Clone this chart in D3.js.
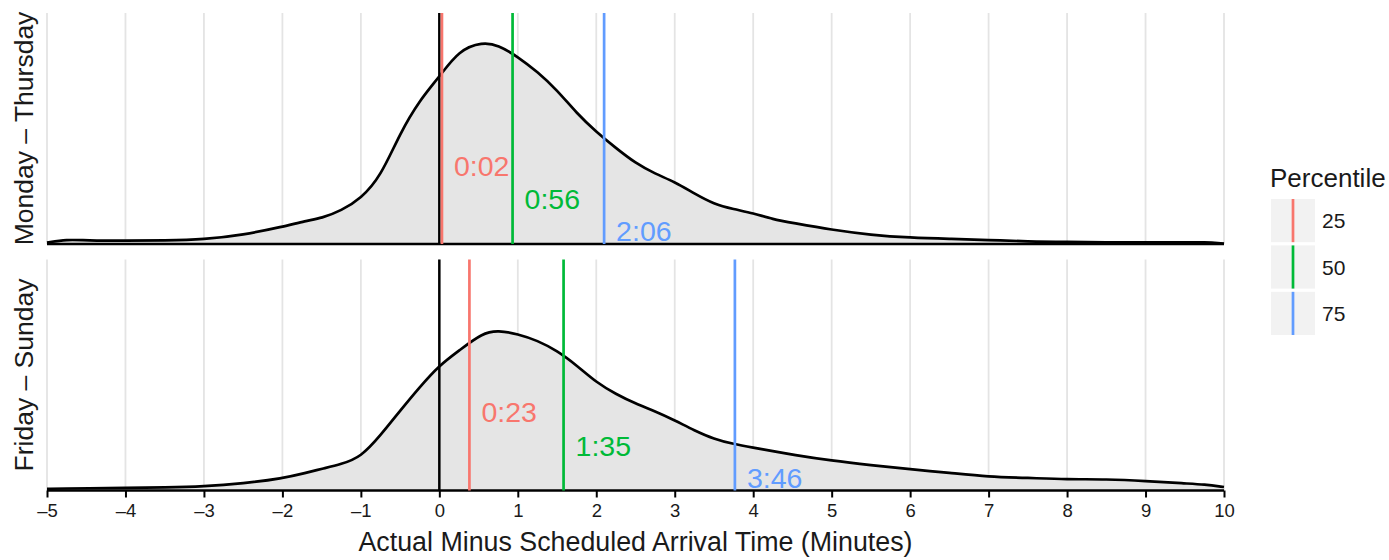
<!DOCTYPE html>
<html><head><meta charset="utf-8">
<script src="https://cdn.jsdelivr.net/npm/d3@7"></script>
<style>
body{margin:0;background:#fff;}
text{font-family:"Liberation Sans",Arial,Helvetica,sans-serif;}
</style></head>
<body><svg id="chart" width="1389" height="560"></svg>
<script>
// ---- data ----
const facets = ["Monday – Thursday", "Friday – Sunday"];
const densityX = [-5,-4.75,-4.5,-4,-3.5,-3,-2.5,-2,-1.7,-1.5,-1.25,-1,-0.75,-0.5,-0.25,0,0.25,0.55,0.75,1,1.25,1.5,1.75,2,2.25,2.5,2.75,3,3.25,3.5,3.75,4,4.25,4.5,5,5.5,6,6.5,7,7.5,8,8.5,9,9.5,9.75,10];
const densityMonThu = [0.003,0.009,0.007,0.0065,0.007,0.009,0.018,0.034,0.046,0.051,0.066,0.09,0.133,0.22,0.285,0.331,0.384,0.40,0.394,0.371,0.341,0.305,0.259,0.222,0.19,0.16,0.139,0.123,0.1,0.079,0.069,0.061,0.049,0.042,0.028,0.018,0.0125,0.01,0.008,0.005,0.004,0.0035,0.003,0.003,0.004,0.001];
const densityFriSun = [0.0034,0.004,0.0045,0.005,0.006,0.008,0.014,0.024,0.035,0.043,0.052,0.066,0.109,0.158,0.205,0.248,0.277,0.312,0.317,0.31,0.297,0.277,0.248,0.214,0.191,0.172,0.157,0.139,0.119,0.102,0.092,0.085,0.078,0.071,0.059,0.05,0.042,0.035,0.027,0.025,0.022,0.0225,0.019,0.014,0.012,0.007];
const percentiles = ["25","50","75"];
const percentileColors = ["#F8766D","#00BA38","#619CFF"];
const pctMonThu = [2/60, 56/60, 126/60];
const pctFriSun = [23/60, 95/60, 226/60];
const pctLabelsMonThu = ["0:02","0:56","2:06"];
const pctLabelsFriSun = ["0:23","1:35","3:46"];
const labelY = [0.135, 0.069, 0.005];
const xTicks = [-5,-4,-3,-2,-1,0,1,2,3,4,5,6,7,8,9,10];
const xTitle = "Actual Minus Scheduled Arrival Time (Minutes)";
const legendTitle = "Percentile";

const panels = [
  {label: facets[0], dens: densityMonThu, pct: pctMonThu, lab: pctLabelsMonThu},
  {label: facets[1], dens: densityFriSun, pct: pctFriSun, lab: pctLabelsFriSun}
];

// ---- layout ----
const svg = d3.select("#chart");
const left = 47, right = 1224;
const panelTops = [13, 259.5];
const panelH = 231;

const x = d3.scaleLinear().domain([-5, 10]).range([left, right]);

panels.forEach((p, i) => {
  const top = panelTops[i];
  const y = d3.scaleLinear().domain([0, 0.4575]).range([top + panelH, top]);
  const g = svg.append("g");

  // gridlines
  g.selectAll("line.grid").data(xTicks).enter().append("line")
    .attr("x1", d => x(d)).attr("x2", d => x(d))
    .attr("y1", top).attr("y2", top + panelH)
    .attr("stroke", "#e4e4e4").attr("stroke-width", 1.8);

  // density area
  const pts = densityX.map((d, k) => [d, p.dens[k]]);
  const area = d3.area().x(d => x(d[0])).y0(y(0)).y1(d => y(d[1])).curve(d3.curveBasis);
  g.append("path").datum(pts).attr("d", area)
    .attr("fill", "#e5e5e5").attr("stroke", "none");
  const line = d3.line().x(d => x(d[0])).y(d => y(d[1])).curve(d3.curveBasis);
  g.append("path").datum(pts).attr("d", line)
    .attr("fill", "none").attr("stroke", "#000").attr("stroke-width", 2.7);
  g.append("line").attr("x1", x(-5)).attr("x2", x(10)).attr("y1", y(0)).attr("y2", y(0))
    .attr("stroke", "#000").attr("stroke-width", 2.7);

  // zero line
  g.append("line").attr("x1", x(0)).attr("x2", x(0))
    .attr("y1", top).attr("y2", top + panelH)
    .attr("stroke", "#000").attr("stroke-width", 2.5);

  // percentile lines + labels
  p.pct.forEach((v, k) => {
    g.append("line").attr("x1", x(v)).attr("x2", x(v))
      .attr("y1", top).attr("y2", top + panelH)
      .attr("stroke", percentileColors[k]).attr("stroke-width", 2.7);
    g.append("text").attr("x", x(v) + 12).attr("y", y(labelY[k]))
      .attr("fill", percentileColors[k]).attr("font-size", 28.5)
      .text(p.lab[k]);
  });

  // strip label
  g.append("text")
    .attr("transform", `translate(33,${top + panelH / 2}) rotate(-90)`)
    .attr("text-anchor", "middle").attr("font-size", 26.5).attr("fill", "#1a1a1a")
    .text(p.label);

  if (i === 1) {
    const ax = d3.axisBottom(x).tickValues(xTicks).tickSize(7).tickPadding(6)
      .tickFormat(d => String(d).replace("-", "–"));
    const axg = g.append("g").attr("transform", `translate(0,${top + panelH})`).call(ax);
    axg.select(".domain").remove();
    axg.selectAll(".tick line").attr("stroke", "#000").attr("stroke-width", 2);
    axg.selectAll(".tick text").attr("font-size", 18.5).attr("fill", "#1a1a1a")
      .attr("font-family", "Liberation Sans, Arial, sans-serif");
  }
});

// x axis title
svg.append("text").attr("x", (left + right) / 2).attr("y", 551)
  .attr("text-anchor", "middle").attr("font-size", 26.8).attr("fill", "#1a1a1a")
  .text(xTitle);

// legend
const lg = svg.append("g");
lg.append("text").attr("x", 1270).attr("y", 187).attr("font-size", 26).attr("fill", "#1a1a1a").text(legendTitle);
const keyY = d3.scaleBand().domain(percentiles).range([199, 335]).paddingInner(0.07);
percentiles.forEach((d, k) => {
  const ky = keyY(d), kh = keyY.bandwidth();
  lg.append("rect").attr("x", 1271).attr("y", ky).attr("width", 44).attr("height", kh).attr("fill", "#f2f2f2");
  lg.append("line").attr("x1", 1293).attr("x2", 1293).attr("y1", ky).attr("y2", ky + kh)
    .attr("stroke", percentileColors[k]).attr("stroke-width", 2.7);
  lg.append("text").attr("x", 1322).attr("y", ky + kh / 2 + 7.5).attr("font-size", 21).attr("fill", "#1a1a1a").text(d);
});
</script></body></html>
